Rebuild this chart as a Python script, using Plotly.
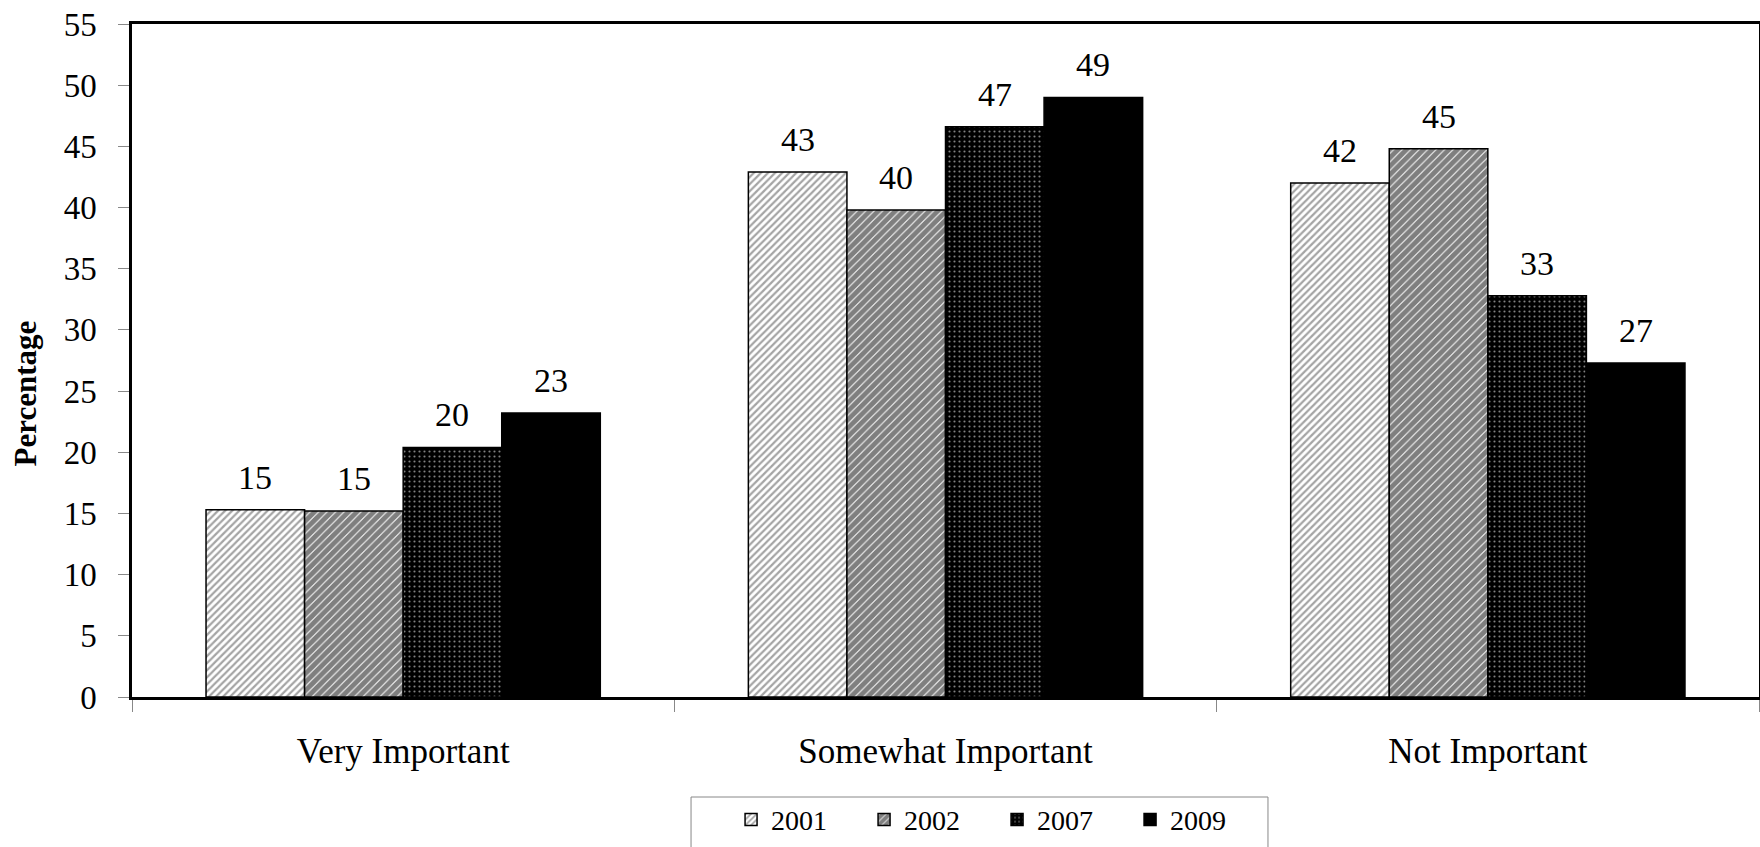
import plotly.graph_objects as go

categories = ["Very Important", "Somewhat Important", "Not Important"]
years = ["2001", "2002", "2007", "2009"]
values_2001 = [15.3, 42.9, 42.0]
values_2002 = [15.2, 39.8, 44.8]
values_2007 = [20.4, 46.6, 32.8]
values_2009 = [23.2, 49.0, 27.3]
labels_2001 = ["15", "43", "42"]
labels_2002 = ["15", "40", "45"]
labels_2007 = ["20", "47", "33"]
labels_2009 = ["23", "49", "27"]
y_ticks = [0, 5, 10, 15, 20, 25, 30, 35, 40, 45, 50, 55]

series_values = [values_2001, values_2002, values_2007, values_2009]
series_labels = [labels_2001, labels_2002, labels_2007, labels_2009]

FONT = "Liberation Serif"
BARGAP = 0.273

patterns = [
    dict(shape="/", size=5, solidity=0.45, fgcolor="#4a4a4a", bgcolor="white"),
    dict(shape="/", size=6, solidity=0.85, fgcolor="black", bgcolor="white"),
    dict(shape=".", size=5, solidity=0.15, fgcolor="white", bgcolor="black"),
    None,
]
colors = ["white", "white", "black", "black"]

fig = go.Figure()
for yr, vals, pat, col in zip(years, series_values, patterns, colors):
    marker = dict(color=col, line=dict(color="black", width=1.5))
    if pat is not None:
        marker["pattern"] = pat
    fig.add_trace(go.Bar(name=yr, x=categories, y=vals, marker=marker))

# data labels above bars
n = len(years)
w = (1 - BARGAP) / n
annotations = []
for ti, (vals, labs) in enumerate(zip(series_values, series_labels)):
    for ci, (v, lab) in enumerate(zip(vals, labs)):
        annotations.append(dict(
            x=ci + (ti - (n - 1) / 2) * w, y=v, xref="x", yref="y",
            text=lab, showarrow=False, yanchor="bottom", yshift=12,
            font=dict(family=FONT, size=34, color="black"),
        ))

annotations.append(dict(
    x=-0.0655, y=0.4517, xref="paper", yref="paper", text="<b>Percentage</b>",
    textangle=-90, showarrow=False, xanchor="center", yanchor="middle",
    font=dict(family=FONT, size=31, color="black"),
))

fig.update_layout(
    width=1760, height=847,
    margin=dict(l=132, r=1, t=24, b=150, autoexpand=False),
    paper_bgcolor="white", plot_bgcolor="white",
    barmode="group", bargap=BARGAP, bargroupgap=0,
    font=dict(family=FONT, color="black"),
    annotations=annotations,
    showlegend=True,
    legend=dict(
        orientation="h", x=0.3682, xanchor="left", y=-0.1454, yanchor="top",
        font=dict(family=FONT, size=28, color="black"),
        entrywidth=88, entrywidthmode="pixels",
        bgcolor="rgba(0,0,0,0)", borderwidth=0,
    ),
    shapes=[dict(
        type="rect", xref="paper", yref="paper",
        x0=0.3436, x1=0.6982, y0=-0.1486, y1=-0.4,
        line=dict(color="#888888", width=1), fillcolor="rgba(0,0,0,0)",
    )],
)

fig.update_xaxes(
    type="category", range=[-0.5, 2.5], automargin=False,
    showline=True, linecolor="black", linewidth=2.5, mirror=True,
    ticks="outside", tickson="boundaries", ticklen=12, tickcolor="#888888", tickwidth=1,
    tickfont=dict(family=FONT, size=35, color="black"),
    ticklabelstandoff=21,
    showgrid=False, zeroline=False,
)
fig.update_yaxes(
    range=[0, 55], tickvals=y_ticks, automargin=False,
    showline=True, linecolor="black", linewidth=2.5, mirror=True,
    ticks="outside", ticklen=11, tickcolor="#888888", tickwidth=1,
    tickfont=dict(family=FONT, size=33, color="black"),
    ticklabelstandoff=15,
    showgrid=False, zeroline=False,
)

fig.write_html(
    "out.html",
    config={"displayModeBar": False},
    post_script="document.body.style.margin='0';document.body.style.overflow='hidden';",
)
